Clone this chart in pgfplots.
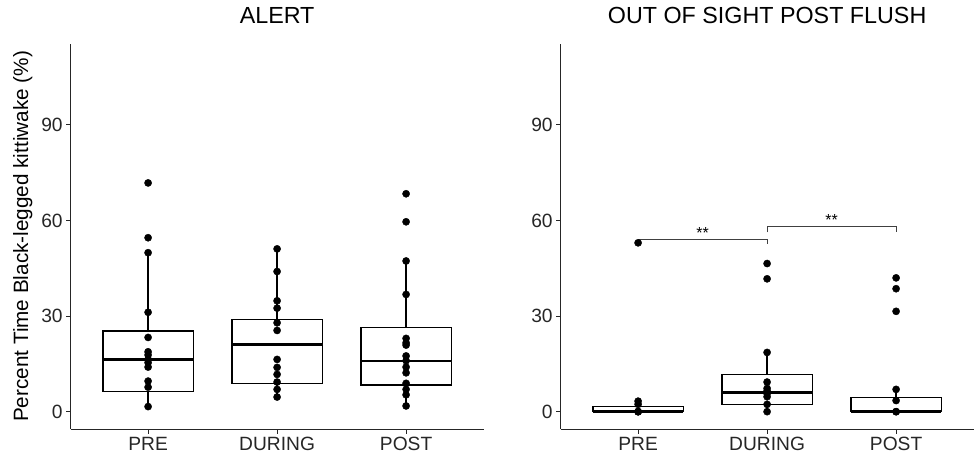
\documentclass[border=0pt]{standalone}
\usepackage{fontspec}
\setmainfont{Liberation Sans}
\usepackage{pgfplots}
\pgfplotsset{compat=1.18}
\usepgfplotslibrary{statistics}

% one ggplot-like panel (theme_classic)
\pgfplotsset{panel/.style={
    scale only axis,
    width=412.8pt, height=385.5pt,
    anchor=south west,
    xmin=0.4, xmax=3.6,
    ymin=-5.5, ymax=115.5,
    axis lines=left,
    axis line style={-, line width=0.9pt, black!85},
    tick align=outside,
    major tick length=4.5pt,
    tick style={line width=0.9pt, black!85},
    xtick={1,2,3},
    xticklabels={PRE,DURING,POST},
    ytick={0,30,60,90},
    ticklabel style={font=\fontsize{19.2}{23}\selectfont, text=black!85},
    /pgf/number format/assume math mode=true,
    title style={at={(0.5,1)}, anchor=base, yshift=13.7pt,
        font=\fontsize{23.3}{28}\selectfont},
    clip=false,
    boxplot/draw direction=y,
    boxplot/every median/.style={line width=2.8pt},
    bxs/.style={draw=black, fill=white, line width=1.3pt, solid, mark=none},
    pts/.style={only marks, mark=*, mark size=3.6pt, black},
    sig/.style={black!75, line width=0.7pt, mark=none},
}}

\begin{document}
\begin{tikzpicture}
\useasboundingbox (0,0) rectangle (974pt,456pt);

% ---------------- ALERT ----------------
\begin{axis}[panel, at={(70.7pt,26.8pt)},
    title={ALERT},
    ylabel={Percent Time Black-legged kittiwake (\%)},
    ylabel style={at={(axis description cs:-0.1034,0.5)}, anchor=base,
        font=\fontsize{20.7}{25}\selectfont}]
\addplot[bxs, boxplot prepared={draw position=1, box extend=0.7, whisker extend=0,
    lower whisker=1.6, lower quartile=6.3, median=16.4,
    upper quartile=25.3, upper whisker=49.9}] coordinates {};
\addplot[bxs, boxplot prepared={draw position=2, box extend=0.7, whisker extend=0,
    lower whisker=4.6, lower quartile=8.8, median=21.0,
    upper quartile=29.0, upper whisker=51.1}] coordinates {};
\addplot[bxs, boxplot prepared={draw position=3, box extend=0.7, whisker extend=0,
    lower whisker=1.8, lower quartile=8.4, median=15.9,
    upper quartile=26.4, upper whisker=47.3}] coordinates {};
\addplot[pts] coordinates {
    (1,71.8) (1,54.6) (1,49.9) (1,31.2) (1,23.3) (1,18.8) (1,17.8)
    (1,16.4) (1,15.4) (1,14.0) (1,9.6) (1,7.7) (1,1.6)};
\addplot[pts] coordinates {
    (2,51.1) (2,44.0) (2,34.8) (2,32.5) (2,27.9) (2,25.5) (2,16.4)
    (2,13.9) (2,11.7) (2,9.3) (2,7.0) (2,4.6)};
\addplot[pts] coordinates {
    (3,68.4) (3,59.6) (3,47.3) (3,36.8) (3,23.0) (3,21.6) (3,20.9)
    (3,17.5) (3,16.0) (3,14.0) (3,12.2) (3,8.9) (3,7.0) (3,5.3) (3,1.8)};
\end{axis}

% ---------------- OUT OF SIGHT POST FLUSH ----------------
\begin{axis}[panel, at={(560.7pt,26.8pt)},
    title={OUT OF SIGHT POST FLUSH}]
\addplot[bxs, boxplot prepared={draw position=1, box extend=0.7, whisker extend=0,
    lower whisker=0, lower quartile=0, median=0,
    upper quartile=1.6, upper whisker=3.3}] coordinates {};
\addplot[bxs, boxplot prepared={draw position=2, box extend=0.7, whisker extend=0,
    lower whisker=0, lower quartile=2.3, median=6.0,
    upper quartile=11.6, upper whisker=18.6}] coordinates {};
\addplot[bxs, boxplot prepared={draw position=3, box extend=0.7, whisker extend=0,
    lower whisker=0, lower quartile=0, median=0,
    upper quartile=4.4, upper whisker=7.0}] coordinates {};
\addplot[pts] coordinates {
    (1,53.0) (1,3.3) (1,2.3) (1,0) (1,0) (1,0)};
\addplot[pts] coordinates {
    (2,46.5) (2,41.7) (2,18.6) (2,9.3) (2,7.3) (2,6.5) (2,5.7)
    (2,4.7) (2,2.3) (2,0)};
\addplot[pts] coordinates {
    (3,42.0) (3,38.6) (3,31.5) (3,7.0) (3,3.5) (3,0) (3,0)};
% significance brackets
\addplot[sig] coordinates {(1,53.4) (1,54.1) (2,54.1) (2,52.5)};
\addplot[sig] coordinates {(2,56.3) (2,58.1) (3,58.1) (3,56.3)};
\node[anchor=base, inner sep=0pt, font=\fontsize{16}{19}\selectfont]
    at (axis cs:1.5,54.4) {**};
\node[anchor=base, inner sep=0pt, font=\fontsize{16}{19}\selectfont]
    at (axis cs:2.5,58.4) {**};
\end{axis}
\end{tikzpicture}
\end{document}
